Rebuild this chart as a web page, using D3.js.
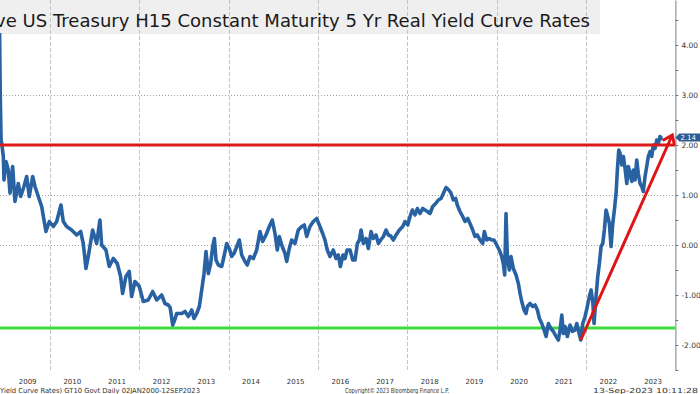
<!DOCTYPE html>
<html><head><meta charset="utf-8">
<script src="https://cdn.jsdelivr.net/npm/d3@7"></script>
<style>html,body{margin:0;padding:0;background:#fff;} svg{display:block;}</style>
</head><body>
<svg id="chart" width="700" height="394"></svg>
<script>
const titleText = "ve US Treasury H15 Constant Maturity 5 Yr Real Yield Curve Rates";
const dates = [
2008.872,2008.885,2008.905,2008.918,2008.955,2008.97,2009.015,2009.066,2009.105,2009.164,2009.216,2009.29,2009.344,2009.418,2009.478,2009.537,2009.613,2009.664,2009.738,2009.814,2009.91,2009.985,
2010.074,2010.15,2010.246,2010.298,2010.373,2010.485,2010.597,2010.686,2010.746,2010.806,2010.857,2010.895,2010.955,
2011.045,2011.119,2011.157,2011.254,2011.328,2011.417,2011.507,2011.582,2011.627,2011.701,2011.775,2011.829,2011.903,
2012.0,2012.089,2012.2,2012.3,2012.389,2012.5,2012.574,2012.648,2012.69,2012.747,2012.798,2012.836,2012.948,
2013.022,2013.097,2013.172,2013.224,2013.284,2013.343,2013.396,2013.448,2013.492,2013.545,2013.597,2013.642,2013.679,2013.716,2013.769,2013.843,2013.895,2013.955,
2014.014,2014.067,2014.119,2014.164,2014.238,2014.291,2014.365,2014.417,2014.477,2014.552,2014.627,2014.701,2014.761,2014.835,2014.91,2014.977,
2015.037,2015.089,2015.134,2015.187,2015.261,2015.299,2015.358,2015.411,2015.485,2015.559,2015.635,2015.694,2015.747,2015.821,2015.895,2015.97,
2016.044,2016.105,2016.156,2016.208,2016.268,2016.342,2016.403,2016.454,2016.5,2016.56,2016.604,2016.65,2016.716,2016.776,2016.828,2016.88,2016.925,2016.962,
2017.014,2017.074,2017.126,2017.186,2017.238,2017.298,2017.35,2017.403,2017.463,2017.522,2017.574,2017.627,2017.686,2017.746,2017.82,2017.896,2017.947,
2018.008,2018.059,2018.111,2018.171,2018.223,2018.283,2018.343,2018.395,2018.447,2018.507,2018.567,2018.634,2018.693,2018.753,2018.805,2018.865,2018.917,2018.97,
2019.029,2019.082,2019.118,2019.178,2019.239,2019.29,2019.351,2019.402,2019.463,2019.514,2019.566,2019.626,2019.686,2019.723,2019.776,2019.834,2019.888,2019.94,
2020.0,2020.058,2020.112,2020.148,2020.179,2020.208,2020.238,2020.283,2020.32,2020.372,2020.432,2020.484,2020.522,2020.56,2020.611,2020.656,2020.686,2020.746,2020.806,2020.857,2020.909,2020.954,
2021.007,2021.059,2021.104,2021.155,2021.209,2021.267,2021.328,2021.379,2021.417,2021.455,2021.491,2021.529,2021.58,2021.641,2021.693,2021.753,2021.791,2021.826,2021.88,2021.925,2021.977,
2022.028,2022.073,2022.111,2022.149,2022.178,2022.223,2022.261,2022.297,2022.335,2022.373,2022.409,2022.447,2022.485,2022.521,2022.559,2022.597,2022.633,2022.671,2022.7,2022.731,2022.761,2022.799,2022.835,2022.873,2022.911,2022.946,2022.984,
2023.022,2023.058,2023.096,2023.134,2023.169,2023.208,2023.246,2023.281,2023.32,2023.358,2023.393,2023.432,2023.47,2023.505,2023.544,2023.582,2023.617,2023.655,2023.694,2023.70
];
const yields = [
4.24,3.10,2.10,2.04,1.77,1.30,1.67,1.50,1.04,1.57,0.87,1.23,0.97,1.17,1.37,0.97,1.37,1.17,0.97,0.77,0.27,0.47,
0.37,0.47,0.80,0.47,0.37,0.30,0.20,0.27,0.03,-0.47,-0.23,-0.03,0.30,
0.03,0.50,0.00,-0.10,-0.43,-0.27,-0.37,-0.63,-0.97,-0.63,-0.53,-1.03,-0.73,
-0.83,-1.13,-1.10,-0.93,-1.10,-1.00,-1.17,-1.20,-1.25,-1.60,-1.48,-1.37,-1.37,
-1.33,-1.43,-1.30,-1.47,-1.37,-1.23,-0.90,-0.57,-0.13,-0.57,-0.37,-0.03,0.13,-0.30,-0.40,-0.43,-0.23,0.03,
-0.07,-0.23,-0.17,-0.07,0.10,-0.20,-0.33,-0.40,-0.23,-0.27,-0.10,0.27,0.07,0.20,0.37,0.50,
0.23,-0.10,0.17,0.00,-0.17,-0.33,-0.07,0.10,0.03,0.30,0.37,0.40,0.17,0.37,0.47,0.53,
0.37,0.23,0.10,-0.10,-0.23,-0.10,-0.27,-0.20,-0.43,-0.20,-0.27,-0.10,-0.10,-0.30,-0.30,0.03,0.10,0.30,
0.03,0.13,-0.07,0.27,0.13,0.20,0.03,0.10,0.17,0.30,0.20,0.18,0.10,0.20,0.30,0.37,0.47,
0.40,0.57,0.70,0.60,0.73,0.63,0.73,0.70,0.67,0.63,0.77,0.83,0.90,0.93,1.03,1.15,1.11,1.05,
0.90,0.93,0.80,0.67,0.57,0.47,0.53,0.43,0.30,0.17,0.20,0.10,0.03,0.27,0.10,0.13,0.10,0.10,
0.00,-0.10,-0.23,-0.37,-0.60,0.63,-0.23,-0.50,-0.23,-0.47,-0.60,-0.77,-0.97,-1.13,-1.30,-1.37,-1.23,-1.17,-1.23,-1.20,-1.30,-1.47,
-1.57,-1.70,-1.83,-1.57,-1.67,-1.73,-1.83,-1.90,-1.70,-1.40,-1.77,-1.63,-1.83,-1.60,-1.73,-1.70,-1.57,-1.70,-1.90,-1.57,-1.43,
-1.23,-1.03,-0.90,-1.13,-1.57,-1.03,-0.63,-0.37,-0.03,0.03,0.30,0.70,0.57,0.43,-0.03,0.43,0.70,1.03,1.50,1.90,1.83,1.60,1.77,1.53,1.23,1.57,1.43,
1.27,1.50,1.30,1.70,1.43,1.23,1.17,1.07,1.37,1.57,1.77,1.87,1.77,2.00,1.93,2.10,2.03,2.17,2.13,2.14
];
const yTicks = [-2, -1, 0, 1, 2, 3, 4];
const yMinorTicks = [-2.5, -1.5, -0.5, 0.5, 1.5, 2.5, 3.5, 4.5];
const gridLevels = [0, 1, 2, 3];
const yearLabels = [2009,2010,2011,2012,2013,2014,2015,2016,2017,2018,2019,2020,2021,2022,2023];
const gridYears = [2010, 2012, 2014, 2016, 2018, 2020, 2022];
const redLevel = 2.0;
const greenLevel = -1.66;
const arrowFrom = [2021.88, -1.90];
const arrowTo = [2023.93, 2.20];
const lastValue = 2.14;
const footLeft = "Yield Curve Rates) GT10  Govt  Daily 02JAN2000-12SEP2023";
const footMid = "Copyright\u00A9 2023 Bloomberg Finance L.P.";
const footRight = "13-Sep-2023 10:11:28";

function yearToDate(t){
  const yr = Math.floor(t);
  const a = Date.UTC(yr,0,1), b = Date.UTC(yr+1,0,1);
  return new Date(a + (t-yr)*(b-a));
}

const svg = d3.select("#chart");
const axisX = 675.4;
const x = d3.scaleUtc().domain([yearToDate(2008.881), yearToDate(2024)]).range([0, axisX]);
const y = d3.scaleLinear().domain([-2.5, 4.9]).range([370, 0]);

svg.append("defs").append("clipPath").attr("id","plotclip")
  .append("rect").attr("x",0).attr("y",0).attr("width",axisX).attr("height",372);

// title box
svg.append("rect").attr("x",0).attr("y",0).attr("width",600).attr("height",34).attr("fill","#efefef");

// vertical dashed gridlines
svg.append("g").selectAll("line").data(gridYears).join("line")
  .attr("x1", d=>Math.round(x(yearToDate(d)))+0.5).attr("x2", d=>Math.round(x(yearToDate(d)))+0.5)
  .attr("y1",0).attr("y2",372)
  .attr("stroke","#c4c4c4").attr("stroke-width",1).attr("stroke-dasharray","4,2");

// horizontal dotted gridlines
svg.append("g").selectAll("line").data(gridLevels).join("line")
  .attr("x1",0).attr("x2",axisX)
  .attr("y1", d=>Math.round(y(d))+0.5).attr("y2", d=>Math.round(y(d))+0.5)
  .attr("stroke","#a0a0a0").attr("stroke-width",1).attr("stroke-dasharray","1,2");

// title text
svg.append("text").attr("y",26.5).attr("x",590).attr("text-anchor","end")
  .attr("font-family","DejaVu Sans").attr("font-size",17).attr("fill","#1a1a1a")
  .attr("textLength", 595).attr("lengthAdjust","spacingAndGlyphs")
  .text(titleText);

// data line
const pts = dates.map((d,i)=>({t:yearToDate(d), v:yields[i]}));
const line = d3.line().x(d=>x(d.t)).y(d=>y(d.v));
const plot = svg.append("g").attr("clip-path","url(#plotclip)");

plot.append("line").attr("x1",0).attr("x2",axisX).attr("y1",y(greenLevel)).attr("y2",y(greenLevel))
  .attr("stroke","#3cdc3c").attr("stroke-width",3);

plot.append("path").datum(pts).attr("d",line).attr("fill","none")
  .attr("stroke","#2862a2").attr("stroke-width",3.6).attr("stroke-linejoin","round");

plot.append("line").attr("x1",0).attr("x2",axisX).attr("y1",y(redLevel)).attr("y2",y(redLevel))
  .attr("stroke","#dc1a1a").attr("stroke-width",3);

// arrow
const ax1 = x(yearToDate(arrowFrom[0])), ay1 = y(arrowFrom[1]);
const ax2 = x(yearToDate(arrowTo[0])), ay2 = y(arrowTo[1]);
svg.append("line").attr("x1",ax1).attr("y1",ay1).attr("x2",ax2).attr("y2",ay2)
  .attr("stroke","#e01414").attr("stroke-width",3);
const ang = Math.atan2(ay2-ay1, ax2-ax1);
const hl = 11, ha = Math.PI/5;
const p1 = [ax2 - hl*Math.cos(ang-ha), ay2 - hl*Math.sin(ang-ha)];
const p2 = [ax2 - hl*Math.cos(ang+ha), ay2 - hl*Math.sin(ang+ha)];
svg.append("path").attr("d",`M${p1[0]},${p1[1]}L${ax2},${ay2}L${p2[0]},${p2[1]}`)
  .attr("fill","none").attr("stroke","#e01414").attr("stroke-width",3).attr("stroke-linejoin","miter");

// right axis
const fmt = d => d3.format(".2f")(d).replace("\u2212","-");
const yAxis = d3.axisRight(y).tickValues(yTicks).tickFormat(fmt).tickSize(3).tickSizeOuter(0).tickPadding(3);
const gA = svg.append("g").attr("transform",`translate(${axisX},0)`).call(yAxis);
gA.select(".domain").attr("stroke","#8796a5").attr("stroke-width",1.2);
gA.selectAll(".tick line").attr("stroke","#6b7a88");
gA.selectAll(".tick text").attr("font-family","DejaVu Sans").attr("font-size",7.5).attr("fill","#333");
const yMinor = d3.axisRight(y).tickValues(yMinorTicks).tickFormat("").tickSize(3).tickSizeOuter(0);
const gM = svg.append("g").attr("transform",`translate(${axisX},0)`).call(yMinor);
gM.select(".domain").remove();
gM.selectAll(".tick line").attr("stroke","#6b7a88");

// last value label
const ly = y(lastValue) - 0.5;
svg.append("path").attr("d",`M${axisX},${ly}L${axisX+4},${ly-4}H700V${ly+4}H${axisX+4}Z`).attr("fill","#2b5c93");
svg.append("text").attr("x",axisX+5).attr("y",ly+2.6).attr("font-family","DejaVu Sans").attr("font-size",7)
  .attr("fill","#fff").text(fmt(lastValue));

// year labels
svg.append("g").selectAll("text").data(yearLabels).join("text")
  .attr("x", d=>x(yearToDate(d+0.5))).attr("y",384).attr("text-anchor","middle")
  .attr("font-family","DejaVu Sans").attr("font-size",7).attr("fill","#333").text(d=>d);

// footer
const foot = (txt,xp,len)=>svg.append("text").attr("x",xp).attr("y",392.5)
  .attr("font-family","DejaVu Sans").attr("font-size",7)
  .attr("fill","#333").attr("textLength",len).attr("lengthAdjust","spacingAndGlyphs").text(txt);
foot(footLeft, 0, 200);
foot(footMid, 345, 104);
foot(footRight, 593, 105);
</script>
</body></html>
